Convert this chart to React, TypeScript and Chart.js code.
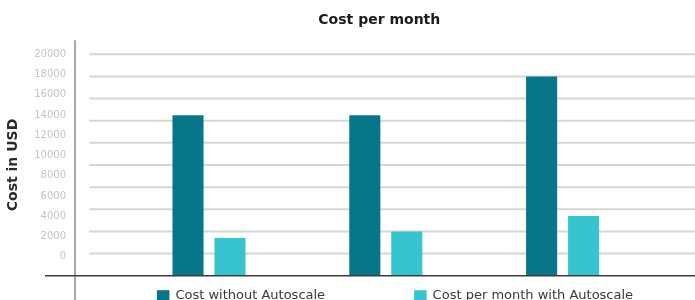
import React, { useEffect, useRef } from "react";
import { Chart, registerables } from "chart.js";

Chart.register(...registerables);

// ---- data ----
const categories = ["Month 1", "Month 2", "Month 3"];
const costWithoutAutoscale = [14500, 14500, 18000];
const costWithAutoscale = [3400, 4000, 5400];
const seriesLabels = ["Cost without Autoscale", "Cost per month with Autoscale"];
const tickValues = [0, 2000, 4000, 6000, 8000, 10000, 12000, 14000, 16000, 18000, 20000];
const chartTitle = "Cost per month";
const yAxisTitle = "Cost in USD";

// ---- style ----
const DARK = "#087689";
const LIGHT = "#36C4CE";
const FONT = "'DejaVu Sans', sans-serif";
const Y_AXIS_WIDTH = 120.6;

const decorPlugin = {
  id: "decor",
  afterLayout(chart: any) {
    const t = chart.titleBlock;
    if (t) {
      t.left -= 6.5;
      t.right -= 6.5;
    }
  },
  beforeDatasetsDraw(chart: any) {
    const { ctx, chartArea: a, scales } = chart;
    const y = scales.y;
    ctx.save();
    // extended horizontal grid lines
    ctx.strokeStyle = "#d6d6d6";
    ctx.lineWidth = 2;
    tickValues.forEach((v) => {
      if (v === 0) return;
      const py = y.getPixelForValue(v);
      ctx.beginPath();
      ctx.moveTo(a.left - 31.3, py);
      ctx.lineTo(chart.width, py);
      ctx.stroke();
    });
    // vertical axis line
    ctx.strokeStyle = "#a8a8a8";
    ctx.lineWidth = 2;
    ctx.beginPath();
    ctx.moveTo(a.left - 45.6, a.top - 14);
    ctx.lineTo(a.left - 45.6, chart.height);
    ctx.stroke();
    ctx.restore();
  },
  afterDatasetsDraw(chart: any) {
    const { ctx, chartArea: a } = chart;
    ctx.save();
    ctx.strokeStyle = "#3c3c3c";
    ctx.lineWidth = 1.5;
    ctx.beginPath();
    ctx.moveTo(a.left - 75.6, a.bottom);
    ctx.lineTo(chart.width, a.bottom);
    ctx.stroke();
    ctx.restore();
  },
  afterDraw(chart: any) {
    const { ctx, chartArea: a } = chart;
    ctx.save();
    ctx.font = `13px ${FONT}`;
    ctx.textBaseline = "alphabetic";
    ctx.textAlign = "left";
    const box = 12.5;
    let x = a.left + 36.3;
    const top = a.bottom + 14.5;
    const base = a.bottom + 23.6;
    chart.data.datasets.forEach((ds: any) => {
      ctx.fillStyle = ds.backgroundColor;
      ctx.fillRect(x, top, box, box);
      ctx.fillStyle = "#3a3a3a";
      const tx = x + box + 6;
      ctx.fillText(ds.label, tx, base);
      x = tx + ctx.measureText(ds.label).width + 89;
    });
    ctx.restore();
  },
};

export default function App() {
  const canvasRef = useRef<HTMLCanvasElement | null>(null);

  useEffect(() => {
    if (!canvasRef.current) return;
    const chart = new Chart(canvasRef.current, {
      type: "bar",
      data: {
        labels: categories,
        datasets: [
          {
            label: seriesLabels[0],
            data: costWithoutAutoscale,
            backgroundColor: DARK,
            yAxisID: "y",
            categoryPercentage: 0.475,
            barPercentage: 0.74,
          },
          {
            label: seriesLabels[1],
            data: costWithAutoscale,
            backgroundColor: LIGHT,
            yAxisID: "y",
            categoryPercentage: 0.475,
            barPercentage: 0.74,
          },
        ],
      },
      options: {
        animation: false,
        responsive: false,
        layout: { autoPadding: false, padding: { left: 0, right: 44, top: 0, bottom: 24.3 } },
        plugins: {
          legend: { display: false },
          tooltip: { enabled: false },
          title: {
            display: true,
            text: chartTitle,
            fullSize: false,
            color: "#1a1a1a",
            font: { family: FONT, size: 14, weight: "bold", lineHeight: 1.2 },
            padding: { top: 11.6, bottom: 25.9 },
          },
        },
        scales: {
          x: { display: false, offset: true },
          y: { display: false, min: 0, max: 20000 },
          yl: {
            type: "linear",
            position: "left",
            min: -1880,
            max: 20000,
            afterBuildTicks: (scale: any) => {
              scale.ticks = tickValues.map((v) => ({ value: v }));
            },
            afterFit: (scale: any) => {
              scale.width = Y_AXIS_WIDTH;
              scale.paddingTop = 0;
              scale.paddingBottom = 0;
            },
            grid: { display: false, drawTicks: false },
            border: { display: false },
            ticks: {
              color: "#c4c4c4",
              font: { family: FONT, size: 10 },
              padding: 54.6,
              callback: (v: any) => String(v),
            },
            title: {
              display: true,
              text: yAxisTitle,
              color: "#2a2a2a",
              font: { family: FONT, size: 14, weight: "bold", lineHeight: 1.2 },
              padding: { top: 4.6, bottom: 12.8 },
            },
          },
        },
      },
      plugins: [decorPlugin],
    });
    return () => chart.destroy();
  }, []);

  return (
    <div style={{ position: "fixed", left: 0, top: 0, width: 695, height: 300, background: "#fff" }}>
      <canvas ref={canvasRef} width={695} height={300} style={{ width: 695, height: 300, display: "block" }} />
    </div>
  );
}
